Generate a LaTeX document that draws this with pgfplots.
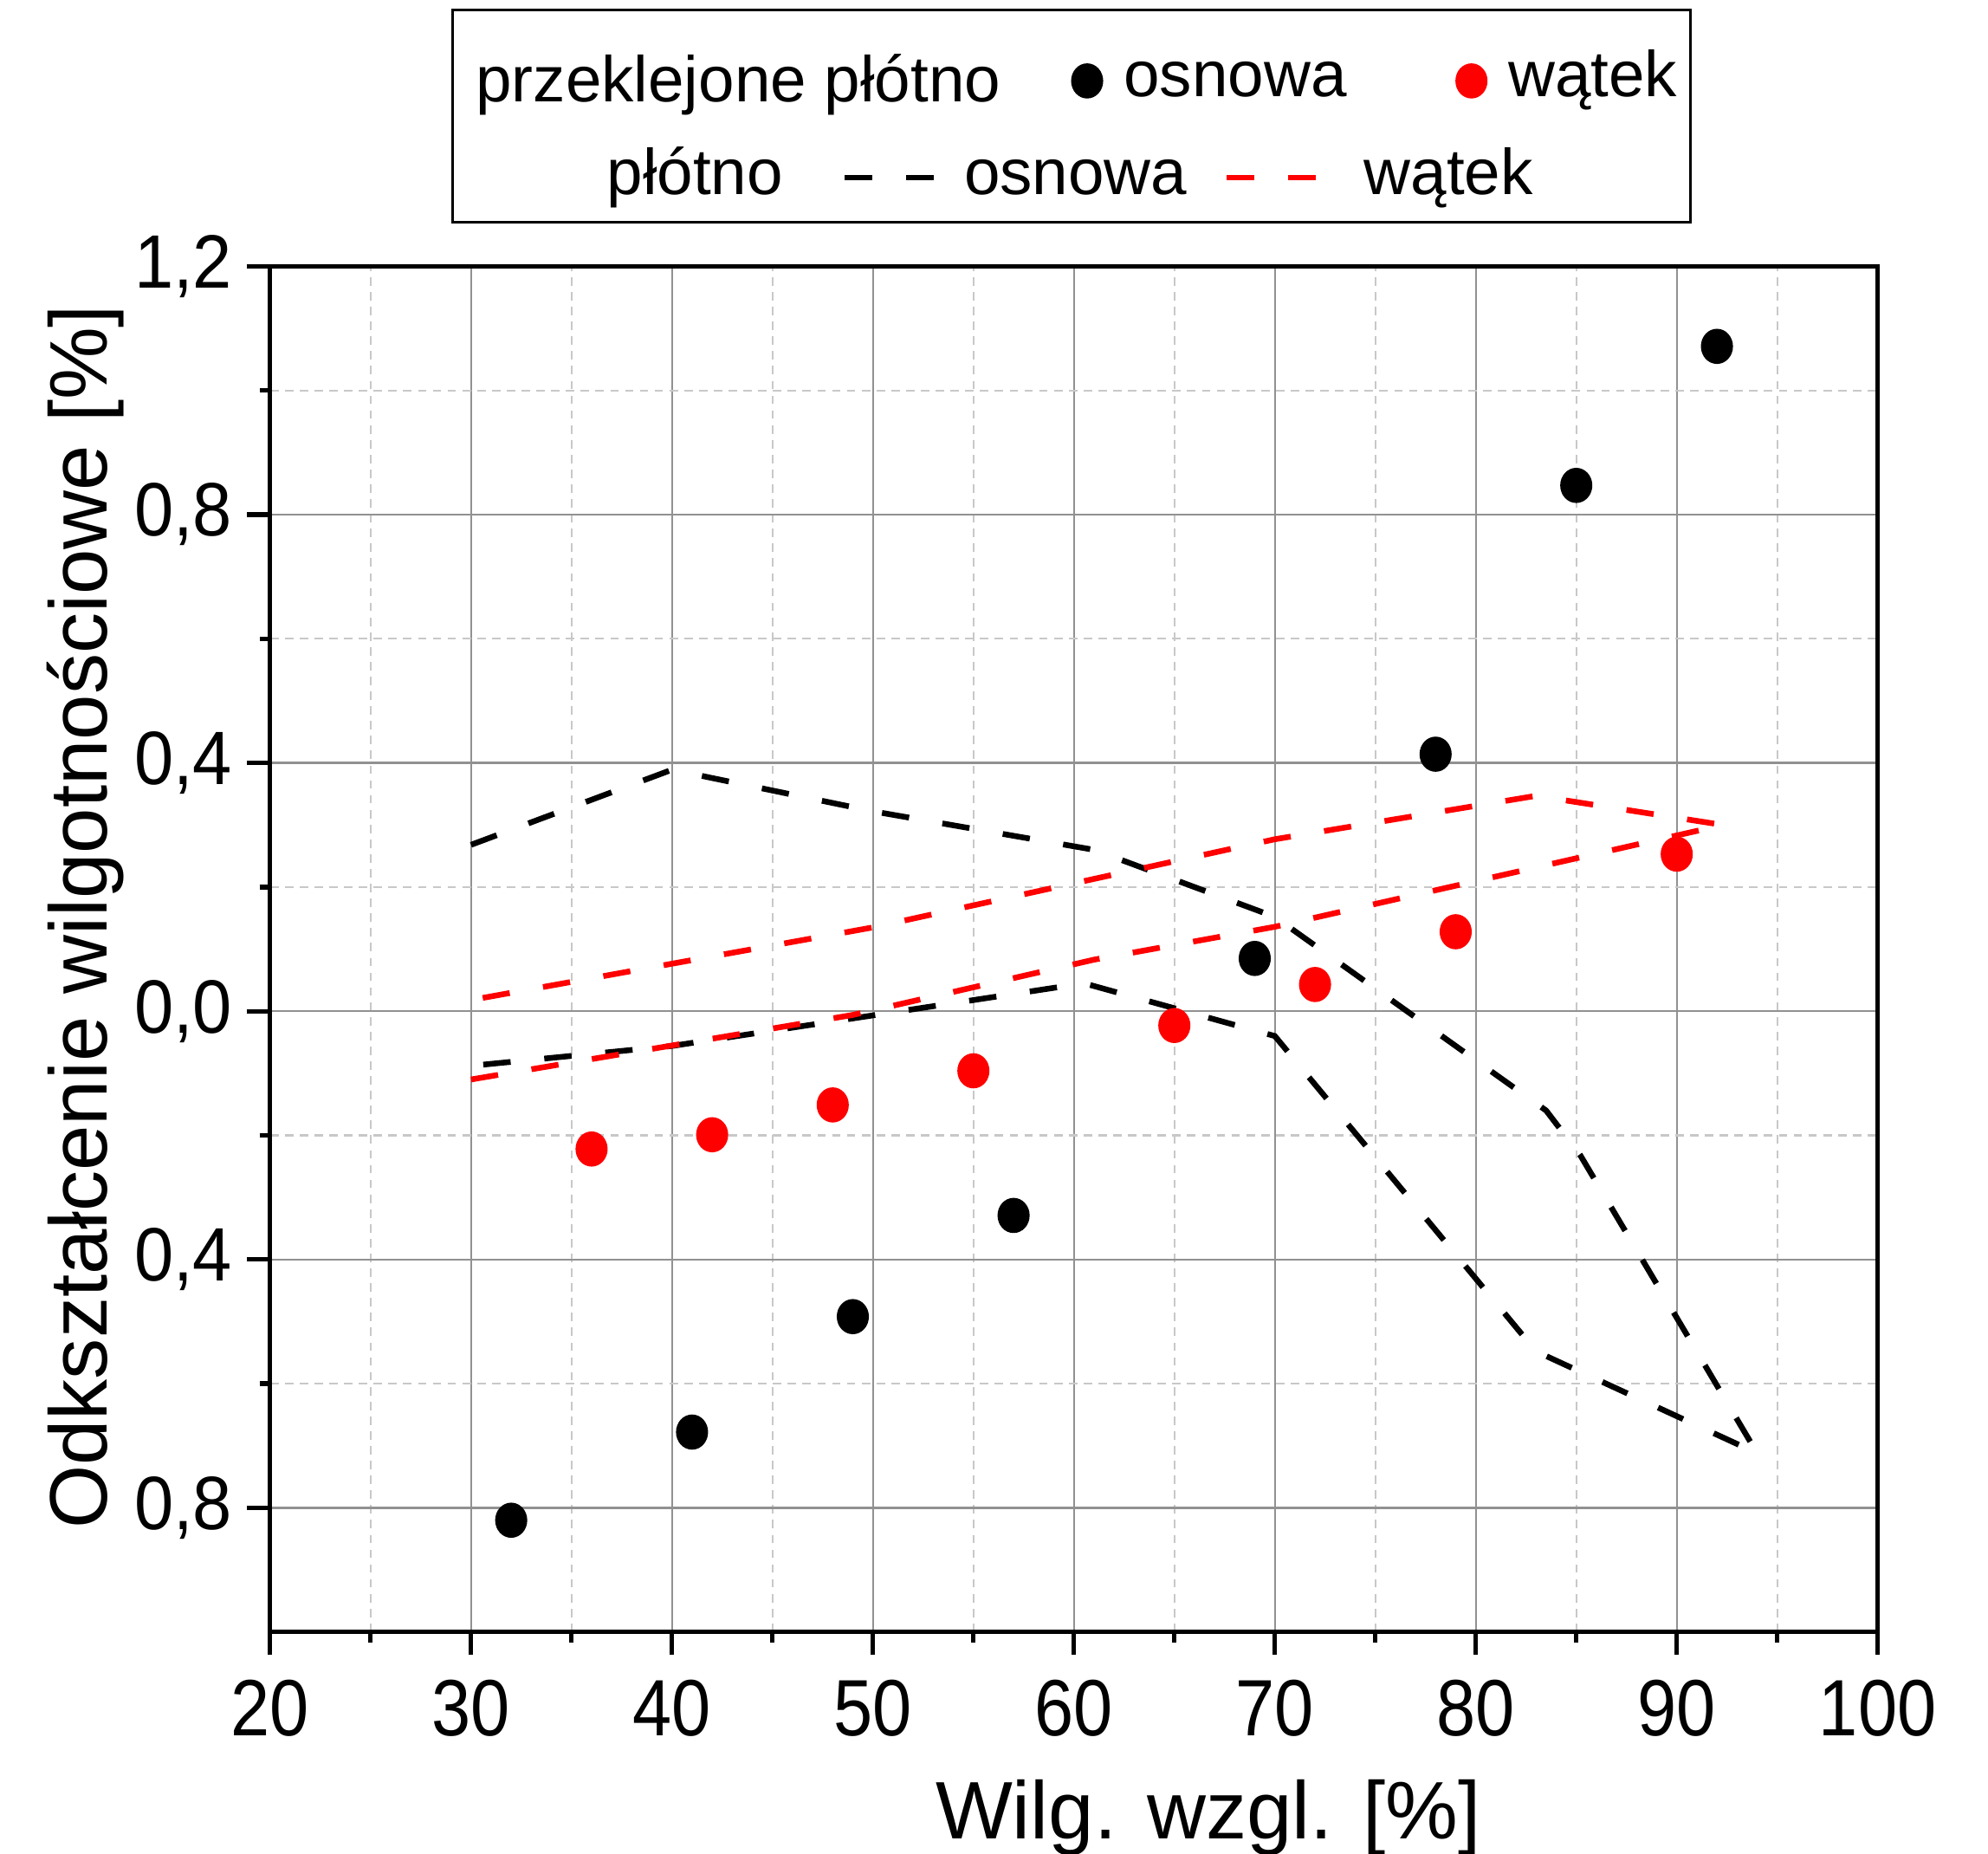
\documentclass[border=0pt]{standalone}
\usepackage{fontspec}
\setmainfont{Liberation Sans}
\newfontfamily\xtickfont{Liberation Sans}[FakeStretch=0.88]
\newfontfamily\ytickfont{Liberation Sans}[FakeStretch=0.93]
\usepackage{pgfplots}
\pgfplotsset{compat=1.18}
\definecolor{majgrid}{RGB}{145,145,145}
\definecolor{mingrid}{RGB}{200,200,200}

\tikzset{legfont/.style={font=\fontsize{15.3}{17}\selectfont}}
\pgfplotsset{
  legmark/.style={legend image code/.code={\draw[##1] plot coordinates {(3.7pt,1.2pt)};\path (0pt,-6.5pt) (12.2pt,6.5pt);}},
  legdashA/.style={legend image code/.code={\draw[##1] (0pt,1.5pt) -- (21pt,1.5pt);\path (0pt,-4pt) (27.6pt,4pt);}},
  legdashB/.style={legend image code/.code={\draw[##1] (0pt,1.5pt) -- (21pt,1.5pt);\path (0pt,-4pt) (31.8pt,4pt);}},
  dashline/.style={line width=1.35pt, dash pattern=on 6.5pt off 8pt},
  dot/.style={only marks, mark=*, mark size=3.6pt, mark options={yscale=1.1}},
}

\begin{document}
\begin{tikzpicture}
\begin{axis}[
  scale only axis, width=380.4pt, height=323.1pt,
  xmin=20, xmax=100, ymin=-1.0, ymax=1.2,
  clip=false,
  xtick={20,30,...,100},
  xticklabels={20,30,40,50,60,70,80,90,100},
  ytick={-0.8,-0.4,0,0.4,0.8,1.2},
  yticklabels={{0,8},{0,4},{0,0},{0,4},{0,8},{1,2}},
  minor x tick num=1, minor y tick num=1,
  tick align=outside, xtick pos=bottom, ytick pos=left,
  major tick length=5.4pt, minor tick length=2.5pt,
  tick style={black, line width=1.1pt},
  axis line style={black, line width=1.1pt},
  grid=both,
  major grid style={majgrid, line width=0.45pt, solid},
  minor grid style={mingrid, line width=0.45pt, dash pattern=on 2pt off 1.5pt},
  xticklabel style={font=\xtickfont\fontsize{18.9}{20}\selectfont, yshift=-2.5pt},
  yticklabel style={font=\ytickfont\fontsize{17.9}{20}\selectfont},
  xlabel={Wilg. wzgl. [\%]},
  ylabel={Odkształcenie wilgotnościowe [\%]},
  every axis x label/.style={at={(axis description cs:0.5836,-0.1516)}, anchor=base,
    font=\fontsize{19.3}{22}\selectfont},
  every axis y label/.style={at={(axis description cs:-0.1017,0.5237)}, rotate=90, anchor=base,
    font=\fontsize{19.3}{22}\selectfont},
  legend columns=-1,
  legend style={draw=none, fill=none, at={(0.498,1.1320)}, anchor=west,
    inner sep=0pt, outer sep=0pt, legfont,
    nodes={inner sep=0pt, outer sep=0pt, text height=0.75em, text depth=0.25em},
    column sep=0pt, /tikz/every even column/.append style={column sep=25.6pt}},
]
% plotno: osnowa (petla)
\addplot[black, dashline, forget plot] coordinates {
  (30,0.268) (40,0.389) (50,0.322) (61,0.260) (70,0.152) (83.5,-0.160)
  (85.2,-0.232) (94,-0.712) (83,-0.548) (70,-0.040) (60.5,0.045)
  (40,-0.056) (30,-0.088)};
% plotno: watek
\addplot[red, dashline, forget plot] coordinates {
  (30,-0.110) (49,-0.006) (61,0.083) (70,0.136) (92.3,0.300)
  (83,0.347) (70,0.277) (50,0.135) (30,0.018)};
% przeklejone plotno
\addplot[black, dot, forget plot] coordinates {
  (32,-0.820) (41,-0.678) (49,-0.492) (57,-0.329)
  (69,0.085) (78,0.414) (85,0.847) (92,1.071)};
\addplot[red, dot, forget plot] coordinates {
  (36,-0.222) (42,-0.199) (48,-0.151) (55,-0.096)
  (65,-0.023) (72,0.043) (79,0.128) (90,0.253)};

\addlegendimage{black, dot, legmark}
\addlegendentry{osnowa}
\addlegendimage{red, dot, legmark}
\addlegendentry{wątek}

\draw[line width=0.6pt] (axis description cs:0.1136,1.0325) rectangle (axis description cs:0.8833,1.1876);
\node[anchor=base west, inner sep=0pt, legfont] at (axis description cs:0.1275,1.1205) {przeklejone płótno};
\node[anchor=base west, inner sep=0pt, legfont] at (axis description cs:0.2090,1.0523) {płótno};
\end{axis}

% drugi wiersz legendy
\begin{axis}[
  scale only axis, width=380.4pt, height=323.1pt,
  xmin=20, xmax=100, ymin=-1.0, ymax=1.2,
  hide axis,
  legend columns=-1,
  legend style={draw=none, fill=none, at={(0.3557,1.0604)}, anchor=west,
    inner sep=0pt, outer sep=0pt, legfont,
    nodes={inner sep=0pt, outer sep=0pt, text height=0.75em, text depth=0.25em},
    column sep=0pt, /tikz/every even column/.append style={column sep=8.7pt}},
]
\addlegendimage{black, dashline, legdashA}
\addlegendentry{osnowa}
\addlegendimage{red, dashline, legdashB}
\addlegendentry{wątek}
\end{axis}

\pgfresetboundingbox
\path (-63.9pt,-52.5pt) rectangle (406.5pt,386.1pt);
\end{tikzpicture}
\end{document}
